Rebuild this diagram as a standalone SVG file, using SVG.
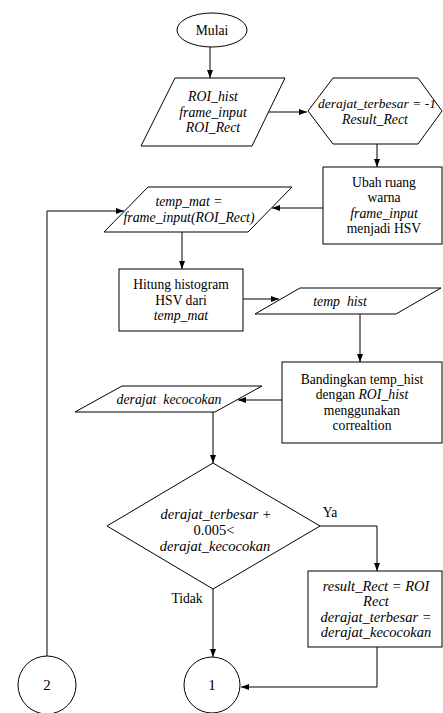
<svg xmlns="http://www.w3.org/2000/svg" width="443" height="713" viewBox="0 0 443 713" font-family="'Liberation Serif', 'Times New Roman', serif">
  <defs>
    <marker id="arrow" viewBox="0 0 8 6" refX="8" refY="3" markerWidth="8" markerHeight="6" markerUnits="userSpaceOnUse" orient="auto">
      <path d="M0,0 L8,3 L0,6 z" fill="#000"/>
    </marker>
  </defs>
  <style>
    .shape { fill: #fff; stroke: #000; stroke-width: 1; }
    .line { fill: none; stroke: #000; stroke-width: 1; marker-end: url(#arrow); }
    text { font-family: 'Liberation Serif', 'Times New Roman', serif; font-size: 13.6px; fill: #000; text-anchor: middle; }
    .it { font-style: italic; font-size: 13.8px; }
    .big { font-size: 14.5px; }
    .num { font-size: 15px; }
  </style>
  <rect width="443" height="713" fill="#fff"/>

  <!-- connectors -->
  <g id="connectors">
    <path class="line" d="M210,47 L210,78"/>
    <path class="line" d="M268,112 L307,112"/>
    <path class="line" d="M377,144 L377,167"/>
    <path class="line" d="M323,208 L272,208"/>
    <path class="line" d="M182,232 L182,269"/>
    <path class="line" d="M243,299 L279,299"/>
    <path class="line" d="M360,314 L360,362"/>
    <path class="line" d="M282,400 L238,400"/>
    <path class="line" d="M213,412 L213,463"/>
    <path class="line" d="M320,526 L377,526 L377,571"/>
    <path class="line" d="M213,589 L213,657"/>
    <path class="line" d="M377,647 L377,687 L241,687"/>
    <path class="line" d="M47,656 L47,211 L124,211"/>
  </g>

  <!-- start -->
  <g id="start">
    <ellipse class="shape" cx="212" cy="30" rx="35" ry="17"/>
    <text x="212" y="34.5">Mulai</text>
  </g>

  <!-- input data -->
  <g id="input">
    <polygon class="shape" points="175,78 285,78 252,146 141,146"/>
    <text class="it" x="213" y="101">ROI_hist</text>
    <text class="it" x="213" y="116.5">frame_input</text>
    <text class="it" x="213" y="132">ROI_Rect</text>
  </g>

  <!-- initialisation -->
  <g id="init">
    <polygon class="shape" points="308,111 333,78 418,78 442,111 418,144 333,144"/>
    <text class="it" x="377" y="108" style="font-size:13.5px">derajat_terbesar = -1</text>
    <text class="it" x="375" y="123.5">Result_Rect</text>
  </g>

  <!-- colour space conversion -->
  <g id="convert">
    <rect class="shape" x="323" y="167" width="119" height="77"/>
    <text x="384" y="186.75">Ubah ruang</text>
    <text x="384" y="202.25">warna</text>
    <text class="it" x="384" y="217.75">frame_input</text>
    <text x="384" y="233.25">menjadi HSV</text>
  </g>

  <!-- crop region -->
  <g id="crop">
    <polygon class="shape" points="148,187 292,187 248,232 104,232"/>
    <text class="it" x="189" y="205.5">temp_mat =</text>
    <text class="it" x="189" y="222">frame_input(ROI_Rect)</text>
  </g>

  <!-- histogram -->
  <g id="histogram">
    <rect class="shape" x="119" y="269" width="124" height="62"/>
    <text x="181" y="289">Hitung histogram</text>
    <text x="181" y="304.5">HSV dari</text>
    <text class="it" x="181" y="320">temp_mat</text>
  </g>

  <!-- histogram output -->
  <g id="temp-hist">
    <polygon class="shape" points="300,288 441,288 396,314 255,314"/>
    <text class="it" x="340" y="305.5">temp&#160;&#160;hist</text>
  </g>

  <!-- comparison -->
  <g id="compare">
    <rect class="shape" x="282" y="362" width="160" height="81"/>
    <text x="362" y="383.75">Bandingkan temp_hist</text>
    <text x="362" y="399.25">dengan <tspan class="it">ROI_hist</tspan></text>
    <text x="362" y="414.75">menggunakan</text>
    <text x="362" y="430.25">correaltion</text>
  </g>

  <!-- match score -->
  <g id="score">
    <polygon class="shape" points="122,386 262,386 215,412 75,412"/>
    <text class="it" x="169" y="404">derajat&#160;&#160;kecocokan</text>
  </g>

  <!-- decision -->
  <g id="decision">
    <polygon class="shape" points="213,463 320,526 213,589 107,526"/>
    <text class="it big" x="216" y="518.5">derajat_terbesar +</text>
    <text class="big" x="214" y="534.5">0.005&lt;</text>
    <text class="it big" x="215" y="550.5">derajat_kecocokan</text>
    <text x="330" y="517">Ya</text>
    <text x="187" y="602.5">Tidak</text>
  </g>

  <!-- update best match -->
  <g id="update">
    <rect class="shape" x="308" y="571" width="134" height="76"/>
    <text class="it big" x="376" y="590.5">result_Rect = ROI</text>
    <text class="it big" x="376" y="606">Rect</text>
    <text class="it big" x="376" y="621.5">derajat_terbesar =</text>
    <text class="it big" x="376" y="637">derajat_kecocokan</text>
  </g>

  <!-- off-page connectors -->
  <g id="connector-2">
    <circle class="shape" cx="47" cy="685" r="29"/>
    <text class="num" x="47" y="690">2</text>
  </g>
  <g id="connector-1">
    <circle class="shape" cx="212" cy="685" r="28"/>
    <text class="num" x="212" y="690">1</text>
  </g>
</svg>
